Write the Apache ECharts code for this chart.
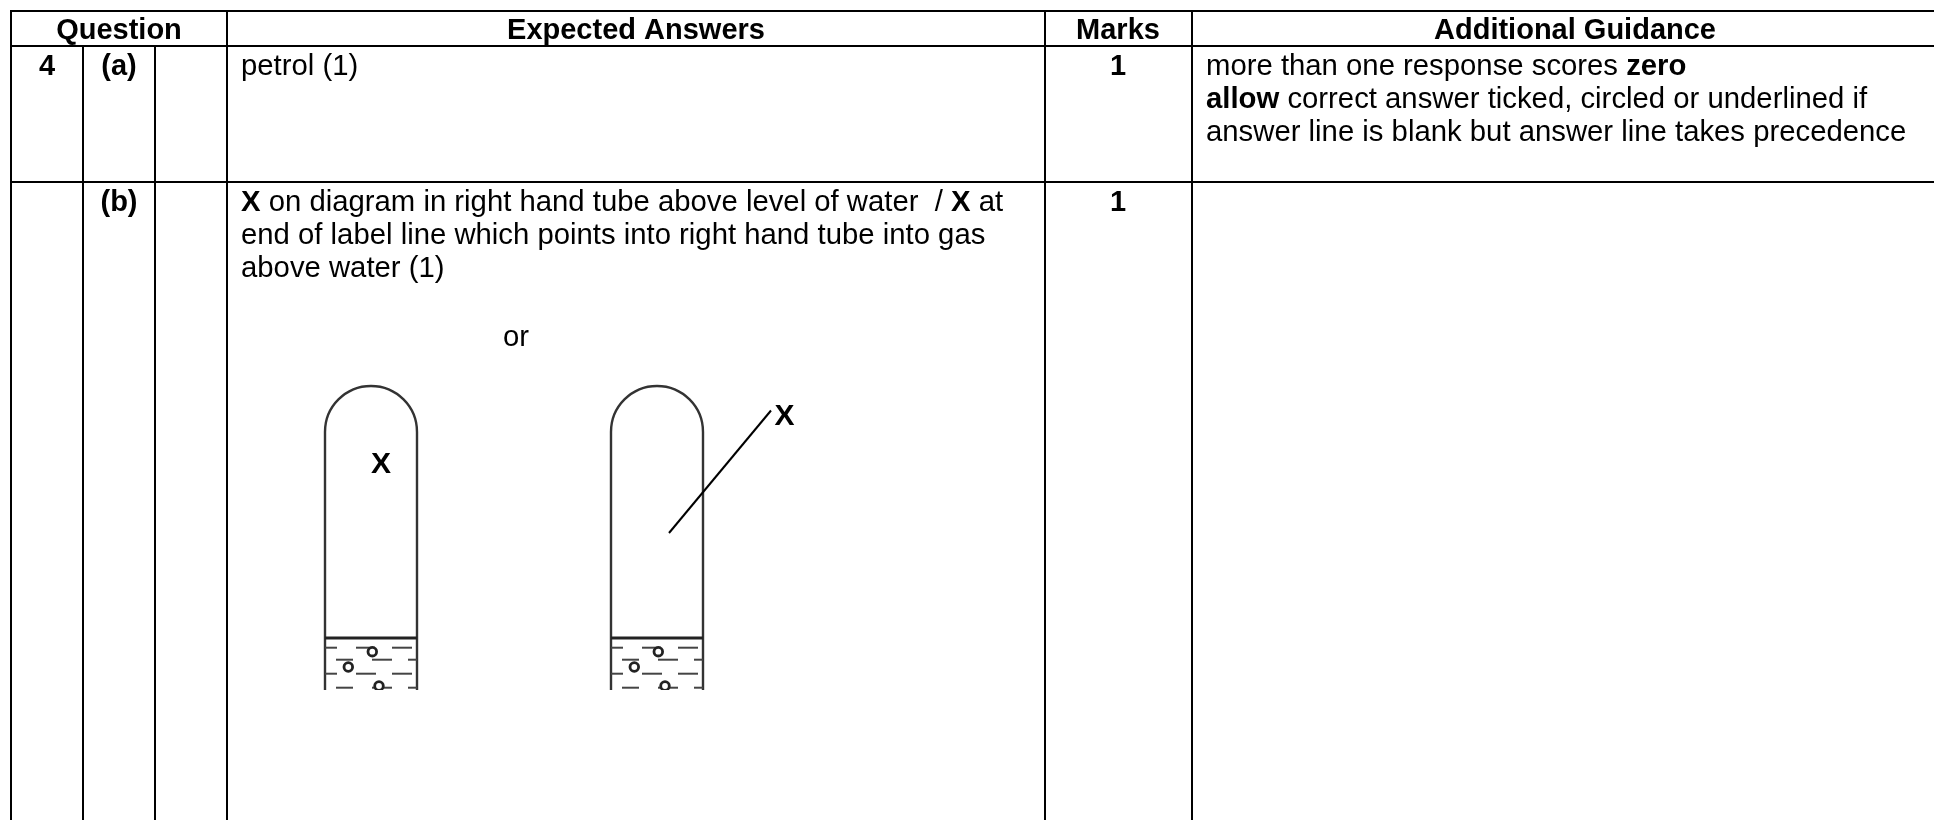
<!DOCTYPE html>
<html>
<head>
<meta charset="utf-8">
<style>html,body{margin:0;padding:0;background:#fff}#c{width:1934px;height:820px}</style>
<script src="https://cdn.jsdelivr.net/npm/echarts@6/dist/echarts.min.js"></script>
</head>
<body>
<div id="c"></div>
<script>
// Table content
const headers = ['Question', 'Expected Answers', 'Marks', 'Additional Guidance'];
const questionNumber = '4';
const parts = ['(a)', '(b)'];
const marks = ['1', '1'];
const answerA = ['petrol (1)'];
const answerB = [
  '{b|X} on diagram in right hand tube above level of water  / {b|X} at',
  'end of label line which points into right hand tube into gas',
  'above water (1)'
];
const orWord = 'or';
const guidanceA = [
  'more than one response scores {b|zero}',
  '{b|allow} correct answer ticked, circled or underlined if',
  'answer line is blank but answer line takes precedence'
];
const markerLabel = 'X';

const FONT = '"Liberation Sans", Arial, sans-serif';
const FS = 29.3, FSB = 29, LH = 33.4;
const INK = '#000';
const X = {l: 11, a: 83, b: 155, c: 227, d: 1045, e: 1192, r: 1934};
const Y = {t: 11, h: 46, a: 182, b: 820};
const els = [];

function line(x1, y1, x2, y2, w, color) {
  els.push({type: 'line', silent: true, shape: {x1, y1, x2, y2},
    style: {stroke: color || INK, lineWidth: w || 2}});
}
function text(str, x, y, opt) {
  opt = opt || {};
  els.push({type: 'text', silent: true, x, y, style: {
    text: str, fill: INK, font: opt.bold ? 'bold ' + FSB + 'px ' + FONT : FS + 'px ' + FONT,
    align: opt.align || 'left', verticalAlign: 'middle'
  }});
}
function richLines(lines, x, y0) {
  lines.forEach((s, i) => {
    els.push({type: 'text', silent: true, x, y: y0 + i * LH, style: {
      text: s, fill: INK, font: FS + 'px ' + FONT, align: 'left', verticalAlign: 'middle',
      rich: {b: {font: 'bold ' + FS + 'px ' + FONT, fill: INK}}
    }});
  });
}
// Rules
line(X.l - 1, Y.t, X.r, Y.t);
line(X.l - 1, Y.h, X.r, Y.h);
line(X.l - 1, Y.a, X.r, Y.a);
[X.l, X.c, X.d, X.e].forEach(x => line(x, Y.t, x, Y.b));
[X.a, X.b].forEach(x => line(x, Y.h, x, Y.b));

// Header
text(headers[0], 119, 30.5, {bold: true, align: 'center'});
text(headers[1], 636, 30.5, {bold: true, align: 'center'});
text(headers[2], 1118, 30.5, {bold: true, align: 'center'});
text(headers[3], 1575, 30.5, {bold: true, align: 'center'});

// Rows
text(questionNumber, 47, 66.5, {bold: true, align: 'center'});
text(parts[0], 119, 66.5, {bold: true, align: 'center'});
text(parts[1], 119, 202.5, {bold: true, align: 'center'});
text(marks[0], 1118, 66.5, {bold: true, align: 'center'});
text(marks[1], 1118, 202.5, {bold: true, align: 'center'});
richLines(answerA, 241, 66.5);
richLines(guidanceA, 1206, 66.5);
richLines(answerB, 241, 202.5);
text(orWord, 503, 338);

// Test tube diagram
function tube(x) {
  const w = 92, r = 46, top = 386, bot = 690, lvl = 638;
  const ink = '#333';
  line(x, top + r, x, bot, 2.4, ink);
  line(x + w, top + r, x + w, bot, 2.4, ink);
  els.push({type: 'arc', silent: true,
    shape: {cx: x + r, cy: top + r, r, startAngle: Math.PI, endAngle: 2 * Math.PI, clockwise: true},
    style: {fill: null, stroke: ink, lineWidth: 2.4}});
  line(x, lvl, x + w, lvl, 3, '#222');
  [
    [0, 12, 647.7], [31, 50, 647.7], [67, 87, 647.7],
    [11, 28, 659.7], [47, 67, 659.7], [83, 92, 659.7],
    [0, 12, 673.7], [31, 51, 673.7], [67, 87, 673.7],
    [11, 28, 687.7], [47, 67, 687.7], [83, 92, 687.7]
  ].forEach(d => line(x + d[0], d[2], x + d[1], d[2], 2, '#444'));
  [[47.3, 651.7], [23.3, 667], [54, 686]].forEach(c => {
    els.push({type: 'circle', silent: true, shape: {cx: x + c[0], cy: c[1], r: 4.3},
      style: {fill: '#fff', stroke: '#222', lineWidth: 2.8}});
  });
  // the drawing is cut off below the water
  els.push({type: 'rect', silent: true, shape: {x: x - 3, y: bot, width: w + 6, height: 10},
    style: {fill: '#fff'}});
}
tube(325);
tube(611);
line(669, 533, 771, 410.5, 2);
els.push({type: 'text', silent: true, x: 381, y: 465, style: {text: markerLabel, fill: INK,
  font: 'bold 30px ' + FONT, align: 'center', verticalAlign: 'middle'}});
els.push({type: 'text', silent: true, x: 784.5, y: 416.5, style: {text: markerLabel, fill: INK,
  font: 'bold 30px ' + FONT, align: 'center', verticalAlign: 'middle'}});

const chart = echarts.init(document.getElementById('c'), null, {renderer: 'canvas'});
chart.setOption({animation: false, backgroundColor: '#fff', graphic: {elements: els}});
</script>
</body>
</html>
